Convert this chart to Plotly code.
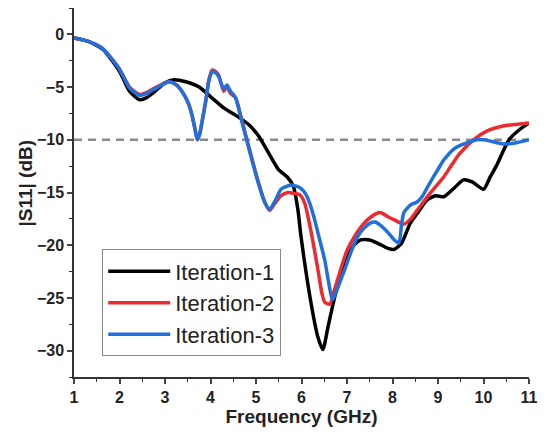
import plotly.graph_objects as go

# ---- data ----
f1 = [1.0, 1.3, 1.63, 2.0, 2.22, 2.44, 2.6, 2.81, 3.0, 3.2, 3.46, 3.75, 4.05, 4.3, 4.6, 4.85,
      5.05, 5.27, 5.49, 5.7, 5.82, 5.92, 5.99, 6.21, 6.36, 6.47, 6.58, 6.73, 6.87, 7.01, 7.15,
      7.3, 7.5, 7.67, 7.9, 8.04, 8.2, 8.39, 8.54, 8.76, 8.95, 9.13, 9.35, 9.56, 9.75, 10.0,
      10.15, 10.28, 10.56, 10.8, 11.0]
s1 = [-0.35, -0.65, -1.4, -3.5, -5.4, -6.2, -6.0, -5.3, -4.6, -4.3, -4.5, -5.0, -6.1, -7.0, -7.8, -8.6,
      -9.6, -11.2, -12.8, -13.6, -14.4, -16.6, -19.2, -25.5, -28.7, -29.9, -27.8, -24.9, -22.8, -21.1, -20.0,
      -19.5, -19.5, -19.8, -20.3, -20.4, -19.8, -17.9, -17.0, -15.7, -15.3, -15.4, -14.6, -13.8, -14.0, -14.7,
      -13.5, -12.5, -10.0, -9.0, -8.4]

f2 = [1.0, 1.3, 1.63, 2.0, 2.22, 2.44, 2.6, 2.81, 3.09, 3.25, 3.37, 3.5, 3.59, 3.66, 3.71, 3.76,
      3.81, 3.9, 3.96, 4.03, 4.1, 4.18, 4.29, 4.36, 4.44, 4.55, 4.68, 4.83, 5.05, 5.2, 5.3, 5.42,
      5.55, 5.7, 5.85, 5.96, 6.07, 6.2, 6.36, 6.45, 6.51, 6.62, 6.72, 6.86, 7.0, 7.16, 7.3, 7.45,
      7.6, 7.73, 7.9, 8.04, 8.25, 8.4, 8.54, 8.82, 9.13, 9.3, 9.48, 9.78, 10.06, 10.43, 10.7, 11.0]
s2 = [-0.35, -0.65, -1.35, -3.3, -5.0, -5.7, -5.5, -5.0, -4.5, -4.8, -5.4, -6.4, -7.6, -9.0, -10.0, -9.5,
      -8.4, -6.2, -4.4, -3.4, -3.5, -3.9, -5.4, -5.0, -5.6, -6.0, -8.0, -10.5, -14.0, -16.0, -16.7, -16.0,
      -15.3, -15.0, -15.1, -15.2, -16.0, -18.5, -22.3, -24.6, -25.4, -25.6, -24.3, -22.3, -20.5, -19.2, -18.3, -17.6,
      -17.1, -16.9, -17.3, -17.6, -18.0, -17.5, -16.7, -15.1, -13.5, -12.4, -11.3, -10.0, -9.2, -8.7, -8.55, -8.4]

f3 = [1.0, 1.3, 1.63, 2.0, 2.22, 2.44, 2.6, 2.81, 3.09, 3.25, 3.37, 3.5, 3.59, 3.66, 3.71, 3.76,
      3.81, 3.9, 3.96, 4.03, 4.1, 4.18, 4.29, 4.36, 4.44, 4.55, 4.68, 4.83, 5.05, 5.2, 5.3, 5.42,
      5.55, 5.77, 5.95, 6.07, 6.18, 6.29, 6.4, 6.51, 6.6, 6.68, 6.8, 6.95, 7.1, 7.23, 7.37, 7.51,
      7.62, 7.73, 7.9, 8.04, 8.14, 8.2, 8.25, 8.39, 8.54, 8.65, 8.82, 9.0, 9.13, 9.34, 9.5, 9.63,
      9.85, 10.0, 10.13, 10.43, 10.7, 11.0]
s3 = [-0.35, -0.65, -1.35, -3.3, -5.1, -5.8, -5.6, -5.1, -4.5, -4.8, -5.4, -6.4, -7.6, -9.0, -10.0, -9.5,
      -8.4, -6.2, -4.5, -3.6, -3.6, -4.0, -5.2, -4.8, -5.4, -6.0, -8.1, -10.6, -14.1, -16.0, -16.6, -15.8,
      -14.7, -14.3, -14.5, -15.0, -16.0, -17.6, -19.5, -21.4, -23.6, -25.2, -24.0, -22.3, -20.5, -19.2, -18.4, -17.9,
      -17.8, -18.1, -18.8, -19.5, -19.8, -18.0, -16.9, -16.2, -15.9, -15.4, -14.1, -12.8, -11.9, -10.9, -10.5, -10.3,
      -10.0, -10.0, -10.1, -10.4, -10.3, -10.0]

names = ["Iteration-1", "Iteration-2", "Iteration-3"]
colors = ["#000000", "#ec2a2f", "#1f6fdc"]
threshold = -10

x_ticks = [1, 2, 3, 4, 5, 6, 7, 8, 9, 10, 11]
y_ticks = [0, -5, -10, -15, -20, -25, -30]
x_title = "Frequency (GHz)"
y_title = "|S11| (dB)"

fig = go.Figure()
for fx, sy, nm, c in zip([f1, f2, f3], [s1, s2, s3], names, colors):
    fig.add_trace(go.Scatter(x=fx, y=sy, mode="lines", name=nm,
                             line=dict(color=c, width=3.5, shape="spline", smoothing=0.6)))

fig.add_shape(type="line", xref="x", yref="y", x0=1, x1=11, y0=threshold, y1=threshold,
              line=dict(color="#8a8a8a", width=2.5, dash="8px,6px"), layer="below")

fig.add_annotation(text=y_title, textangle=-90, xref="paper", yref="paper",
                   x=-0.107, y=0.525, xanchor="center", yanchor="middle", showarrow=False,
                   font=dict(family="Liberation Sans", size=19, color="#222222", weight="bold"))

tickfont = dict(family="Liberation Sans", size=16, color="#222222", weight="bold")
fig.update_layout(
    width=546, height=432,
    margin=dict(l=74, r=13, t=8, b=55),
    paper_bgcolor="white", plot_bgcolor="white",
    showlegend=True,
    legend=dict(x=0.062, y=0.346, xanchor="left", yanchor="top",
                bordercolor="#888888", borderwidth=1, bgcolor="white",
                font=dict(family="Liberation Sans", size=22, color="#222222"),
                itemwidth=62, tracegroupgap=0),
    xaxis=dict(range=[1, 11], tickvals=x_ticks, ticks="outside", ticklen=5, tickwidth=1.5,
               showline=True, linecolor="#333333", linewidth=1.5, showgrid=False, zeroline=False,
               tickfont=tickfont,
               minor=dict(ticks="outside", dtick=0.5, ticklen=3, tickwidth=1.2, tickcolor="#333333", showgrid=False),
               title=dict(text=x_title, font=dict(family="Liberation Sans", size=19, color="#222222", weight="bold"),
                          standoff=4)),
    yaxis=dict(range=[-32.5, 2.5], tickvals=y_ticks, ticks="outside", ticklen=5, tickwidth=1.5,
               showline=True, linecolor="#333333", linewidth=1.5, showgrid=False, zeroline=False,
               tickfont=tickfont,
               minor=dict(ticks="outside", dtick=2.5, ticklen=3, tickwidth=1.2, tickcolor="#333333", showgrid=False)),
)

fig.write_html("out.html")
